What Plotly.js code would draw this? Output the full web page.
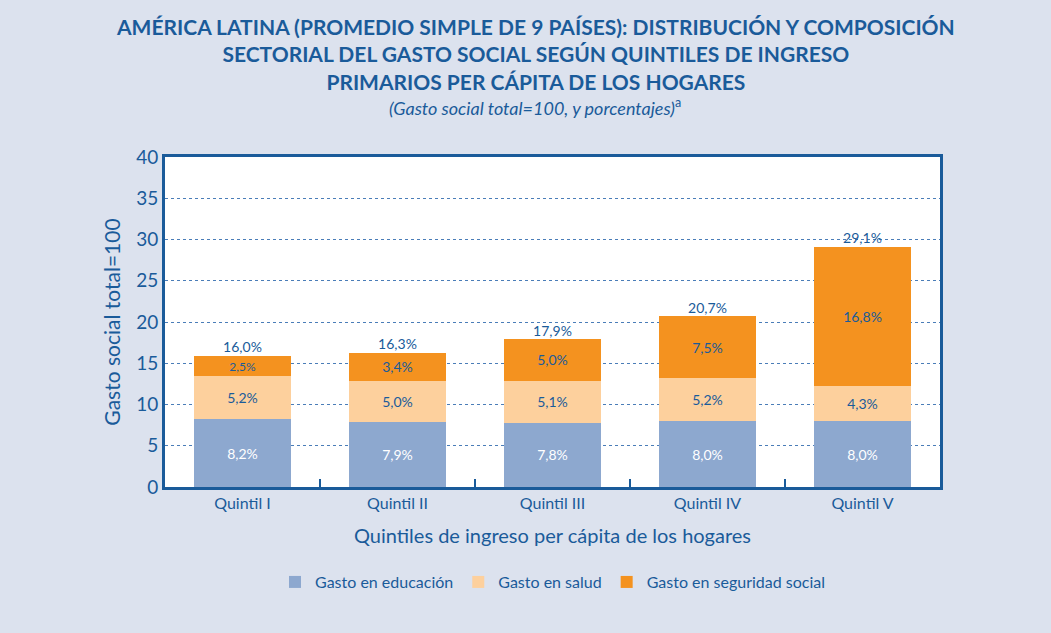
<!DOCTYPE html>
<html>
<head>
<meta charset="utf-8">
<script src="https://cdn.plot.ly/plotly-3.0.1.min.js"></script>
<style>
html,body{margin:0;padding:0;background:#dce2ee;}
#chart{width:1051px;height:633px;}
</style>
</head>
<body>
<div id="chart"></div>
<script>
const categories = ['Quintil I', 'Quintil II', 'Quintil III', 'Quintil IV', 'Quintil V'];
const educacion = [8.2, 7.9, 7.8, 8.0, 8.0];
const salud = [5.2, 5.0, 5.1, 5.2, 4.3];
const seguridad = [2.5, 3.4, 5.0, 7.5, 16.8];
const totales = [16.0, 16.3, 17.9, 20.7, 29.1];
const seriesNames = ['Gasto en educación', 'Gasto en salud', 'Gasto en seguridad social'];
const titleLines = [
  'AMÉRICA LATINA (PROMEDIO SIMPLE DE 9 PAÍSES): DISTRIBUCIÓN Y COMPOSICIÓN',
  'SECTORIAL DEL GASTO SOCIAL SEGÚN QUINTILES DE INGRESO',
  'PRIMARIOS PER CÁPITA DE LOS HOGARES'
];
const subtitle = '(Gasto social total=100, y porcentajes)';

const blue = '#1a5b9a';
const font = 'Lato, "Open Sans", sans-serif';
const barWidth = 0.63;

function barTrace(name, values, color, textColor) {
  return {
    type: 'bar', name: name, x: categories, y: values,
    marker: {color: color},
    width: barWidth,
    texttemplate: '%{y:.1f}%',
    textposition: 'inside', insidetextanchor: 'middle',
    textfont: {family: font, size: 14, color: textColor},
    hoverinfo: 'skip'
  };
}

const traces = [
  barTrace(seriesNames[0], educacion, '#8da8cf', '#ffffff'),
  barTrace(seriesNames[1], salud, '#fdd09d', blue),
  barTrace(seriesNames[2], seguridad, '#f4921f', blue),
  {
    type: 'scatter', mode: 'text', x: categories, y: totales,
    texttemplate: '%{y:.1f}%', textposition: 'top center',
    textfont: {family: font, size: 14, color: blue},
    showlegend: false, hoverinfo: 'skip', cliponaxis: false
  }
];

const annotations = [{
  text: '<b>' + titleLines.join('<br>') + '</b>',
  xref: 'paper', yref: 'paper', x: 0.4787, y: 1.312, xanchor: 'center', yanchor: 'middle',
  showarrow: false, font: {family: font, size: 21, color: blue}
}, {
  text: '<i>' + subtitle + '</i><sup>a</sup>',
  xref: 'paper', yref: 'paper', x: 0.477, y: 1.1515, xanchor: 'center', yanchor: 'middle',
  showarrow: false, font: {family: font, size: 18, color: blue}
}];

const layout = {
  width: 1051, height: 633,
  paper_bgcolor: '#dce2ee', plot_bgcolor: '#ffffff',
  separators: ',.',
  barmode: 'stack',
  margin: {l: 165, r: 111, t: 157, b: 146},
  font: {family: font, color: blue},
  annotations: annotations,
  xaxis: {
    type: 'category',
    showline: true, linecolor: blue, linewidth: 3, mirror: true,
    ticks: 'inside', tickson: 'boundaries', ticklen: 8, tickwidth: 2, tickcolor: blue,
    tickfont: {family: font, size: 16, color: blue},
    title: {text: 'Quintiles de ingreso per cápita de los hogares', font: {family: font, size: 20, color: blue}, standoff: 18},
    fixedrange: true
  },
  yaxis: {
    range: [0, 40], dtick: 5,
    showline: true, linecolor: blue, linewidth: 3, mirror: true,
    showgrid: true, gridcolor: '#4a7db8', griddash: 'dot', gridwidth: 1,
    zeroline: false,
    ticks: '', tickfont: {family: font, size: 19, color: blue},
    title: {text: 'Gasto social total=100', font: {family: font, size: 21, color: blue}, standoff: 10},
    fixedrange: true
  },
  legend: {
    orientation: 'h', x: 0.5, xanchor: 'center', y: -0.288, yanchor: 'middle',
    font: {family: font, size: 16, color: blue}, traceorder: 'normal',
    bgcolor: 'rgba(0,0,0,0)'
  },
  showlegend: true
};

Plotly.newPlot('chart', traces, layout, {displayModeBar: false, staticPlot: true});
</script>
</body>
</html>
